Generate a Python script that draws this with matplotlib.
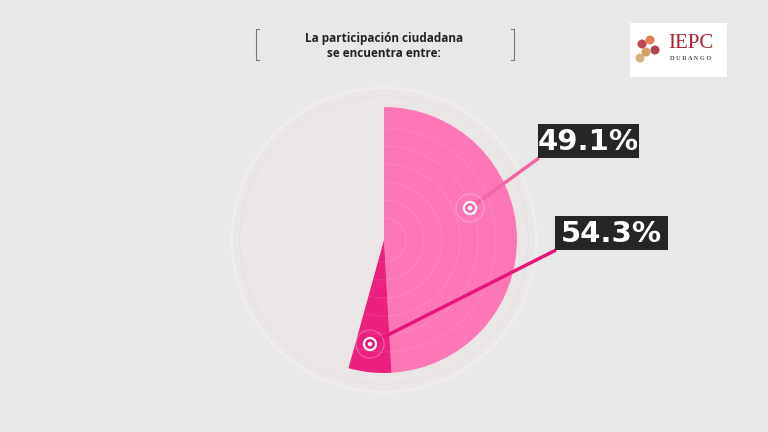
import matplotlib.pyplot as plt
from matplotlib.patches import Circle, Rectangle, Wedge
import numpy as np

# participation share values (%)
labels = ['49.1%', '54.3%']
low = 49.1
high = 54.3
sizes = [low, high - low, 100 - high]
colors = ['#fd77b6', '#ec207e', '#ebe5e5']

title = 'La participación ciudadana\nse encuentra entre:'

W, H = 768, 432
fig = plt.figure(figsize=(7.68, 4.32), dpi=100)
fig.patch.set_facecolor('#e8e8e8')
ax = fig.add_axes([0, 0, 1, 1])
ax.set_xlim(0, W)
ax.set_ylim(0, H)
ax.set_aspect('equal')
ax.axis('off')

cx, cy = 384, 432 - 240
R = 133

# background disc and faint rings
ax.add_patch(Circle((cx, cy), 152, facecolor='#ebe6e6', edgecolor='#eeecec', lw=2, zorder=1))
ax.add_patch(Circle((cx, cy), 144, facecolor='none', edgecolor='#e7e1e1', lw=1, zorder=1))

wedges, _ = ax.pie(sizes, colors=colors, startangle=90, counterclock=False,
                   center=(cx, cy), radius=R, frame=True,
                   wedgeprops=dict(linewidth=0, zorder=2))
wedges[2].set_visible(False)
ax.set_xlim(0, W)
ax.set_ylim(0, H)
ax.axis('off')

# concentric white rings inside the coloured wedges
for w in wedges[:2]:
    for r in np.arange(22, R - 5, 18):
        c = Circle((cx, cy), r, facecolor='none', edgecolor='white', lw=0.8, alpha=0.1, zorder=3)
        ax.add_patch(c)
        c.set_clip_path(w)

# markers and leader lines
marker_pts = [(470, 432 - 208), (370, 432 - 344)]
line_ends = [(539, 432 - 158), (556, 432 - 250)]
line_cols = ['#f266a8', '#e5157a']
boxes = [(538, 432 - 158, 101, 34), (555, 432 - 250, 113, 34)]

for (mx, my), (lx, ly), lc, (bx, by, bw, bh), lab in zip(marker_pts, line_ends, line_cols, boxes, labels):
    ax.plot([mx, lx], [my, ly], color=lc, lw=2.5, solid_capstyle='butt', zorder=4)
    ax.add_patch(Circle((mx, my), 14, facecolor='none', edgecolor='white', lw=1, alpha=0.25, zorder=5))
    ax.add_patch(Circle((mx, my), 6, facecolor=lc, edgecolor='white', lw=1.6, zorder=5))
    ax.add_patch(Circle((mx, my), 2.3, facecolor='white', edgecolor='none', zorder=6))
    ax.add_patch(Rectangle((bx, by), bw, bh, facecolor='#262626', edgecolor='none', zorder=6))
    ax.text(bx + bw / 2, by + bh / 2 - 1, lab, color='white', fontsize=21, fontweight='bold',
            family='DejaVu Sans', ha='center', va='center', zorder=7)

# title with brackets
ax.text(384, 432 - 46, title, ha='center', va='center', fontsize=8.5, fontweight='bold',
        family='Open Sans', color='#222222', linespacing=1.25)
for x0, d in [(256, 1), (514, -1)]:
    ax.plot([x0 + 3 * d, x0, x0, x0 + 3 * d], [432 - 29, 432 - 29, 432 - 60, 432 - 60],
            color='#777777', lw=0.8)

# logo
ax.add_patch(Rectangle((630, 432 - 77), 97, 54, facecolor='white', edgecolor='none'))
for (ex, ey, ec) in [(642, 432 - 44, '#b5282f'), (650, 432 - 40, '#e06b3b'), (646, 432 - 52, '#c98f4a'),
                     (655, 432 - 50, '#a0262c'), (640, 432 - 58, '#d2a36a')]:
    ax.add_patch(Circle((ex, ey), 4.5, facecolor=ec, edgecolor='none', alpha=0.85))
ax.text(691, 432 - 44, 'IEPC', ha='center', va='center', fontsize=15, family='Liberation Serif',
        color='#a8222b')
ax.text(691, 432 - 58, 'D U R A N G O', ha='center', va='center', fontsize=4.5, family='Liberation Serif',
        fontweight='bold', color='#555555')

fig.savefig('out.png', dpi=100, facecolor=fig.get_facecolor())
